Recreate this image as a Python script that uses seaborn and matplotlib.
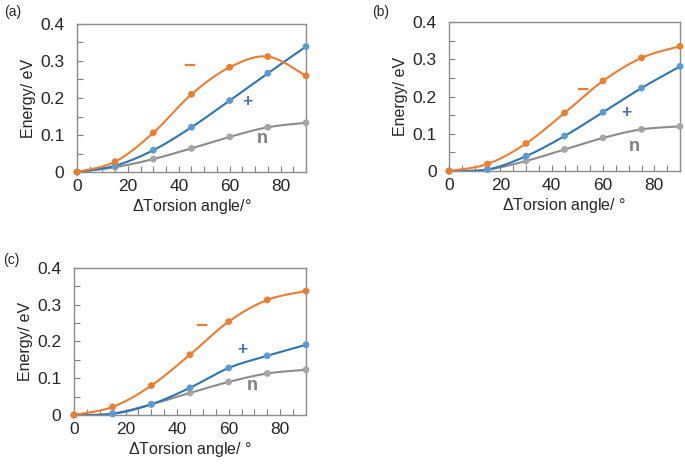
import numpy as np
import seaborn as sns
import matplotlib.pyplot as plt
from matplotlib.ticker import MultipleLocator, FuncFormatter

# torsion angle steps (degrees)
angles = [0, 15, 30, 45, 60, 75, 90]

# panel (a)
a_minus = [0, 0.028, 0.106, 0.210, 0.283, 0.312, 0.260]
a_plus = [0, 0.017, 0.059, 0.121, 0.193, 0.267, 0.339]
a_n = [0, 0.013, 0.035, 0.064, 0.095, 0.121, 0.133]

# panel (b)
b_minus = [0, 0.019, 0.074, 0.156, 0.242, 0.304, 0.335]
b_plus = [0, 0.004, 0.040, 0.094, 0.158, 0.223, 0.281]
b_n = [0, 0.004, 0.027, 0.058, 0.089, 0.112, 0.120]

# panel (c)
c_minus = [0, 0.022, 0.080, 0.164, 0.254, 0.313, 0.337]
c_plus = [0, 0.003, 0.029, 0.074, 0.128, 0.161, 0.191]
c_n = [0, 0.004, 0.029, 0.060, 0.090, 0.113, 0.123]

series_labels = ["\u2212", "+", "n"]
# where the series tags sit, per panel: (x, y)
label_pos = {
    "a": [(44, 0.285), (67, 0.19), (73, 0.09)],
    "b": [(52, 0.216), (69, 0.156), (72, 0.065)],
    "c": [(49.5, 0.24), (65.5, 0.178), (69, 0.08)],
}

line_colors = ["#ED7D31", "#2E75B6", "#8C8C8C"]
marker_colors = ["#ED7D31", "#5B9BD5", "#A5A5A5"]
label_colors = ["#ED7D31", "#4472C4", "#7F7F7F"]
label_sizes = [15, 12.5, 13]

sns.set_style("white")
plt.rcParams["font.family"] = ["Liberation Sans", "DejaVu Sans"]
plt.rcParams["mathtext.fontset"] = "custom"
plt.rcParams["mathtext.it"] = "Liberation Sans:italic"
plt.rcParams["mathtext.rm"] = "Liberation Sans"


def smooth(x, y, n=30):
    # Excel-like smoothed line: cubic bezier segments, catmull-rom handles
    x = np.asarray(x, float)
    y = np.asarray(y, float)
    px = np.concatenate([[x[0]], x, [x[-1]]])
    py = np.concatenate([[y[0]], y, [y[-1]]])
    xs, ys = [], []
    t = np.linspace(0, 1, n)
    for i in range(1, len(px) - 2):
        p0 = np.array([px[i], py[i]])
        p3 = np.array([px[i + 1], py[i + 1]])
        p1 = p0 + (np.array([px[i + 1], py[i + 1]]) - np.array([px[i - 1], py[i - 1]])) / 6
        p2 = p3 - (np.array([px[i + 2], py[i + 2]]) - np.array([px[i], py[i]])) / 6
        b = ((1 - t) ** 3)[:, None] * p0 + (3 * (1 - t) ** 2 * t)[:, None] * p1 \
            + (3 * (1 - t) * t ** 2)[:, None] * p2 + (t ** 3)[:, None] * p3
        xs.append(b[:, 0])
        ys.append(b[:, 1])
    return np.concatenate(xs), np.concatenate(ys)


def fmt_energy(v, pos):
    return "0" if abs(v) < 1e-9 else f"{v:.1f}"


fig = plt.figure(figsize=(6.85, 4.70), dpi=100)

panels = [
    ("a", [a_minus, a_plus, a_n], [0.1124, 0.634, 0.3343, 0.315], "/\u00b0"),
    ("b", [b_minus, b_plus, b_n], [0.6555, 0.636, 0.3372, 0.317], "/ \u00b0"),
    ("c", [c_minus, c_plus, c_n], [0.1080, 0.117, 0.3387, 0.313], "/ \u00b0"),
]

for name, data, rect, unit in panels:
    ax = fig.add_axes(rect)
    # grey first so orange/blue sit on top
    for k in [2, 1, 0]:
        sx, sy = smooth(angles, data[k])
        sns.lineplot(x=sx, y=sy, ax=ax, color=line_colors[k], lw=1.5,
                     sort=False, estimator=None)
        sns.scatterplot(x=angles, y=data[k], ax=ax, color=marker_colors[k],
                        s=24, edgecolor="none", zorder=3, clip_on=False)
    for k, (lx, ly) in enumerate(label_pos[name]):
        ax.text(lx, ly, series_labels[k], color=label_colors[k],
                fontsize=label_sizes[k], fontweight="bold",
                ha="center", va="center")

    ax.set_xlim(0, 90)
    ax.set_ylim(0, 0.4)
    ax.xaxis.set_major_locator(MultipleLocator(20))
    ax.xaxis.set_minor_locator(MultipleLocator(5))
    ax.yaxis.set_major_locator(MultipleLocator(0.1))
    ax.yaxis.set_minor_locator(MultipleLocator(0.05))
    ax.yaxis.set_major_formatter(FuncFormatter(fmt_energy))
    ax.tick_params(which="both", direction="in", color="#7F7F7F",
                   bottom=True, left=True, labelsize=12.5, width=0.8, length=4)
    ax.tick_params(axis="y", which="major", pad=9)
    ax.tick_params(axis="x", which="major", pad=5)
    for sp in ax.spines.values():
        sp.set_color("#8C8C8C")
        sp.set_linewidth(1.0)

    ax.set_ylabel("Energy/ eV", fontsize=11.5, labelpad=3)
    ax.set_xlabel("$\\mathit{\\Delta}$Torsion angle" + unit, fontsize=11.5, labelpad=2)

fig.text(0.006, 0.975, "(a)", fontsize=10, va="center")
fig.text(0.543, 0.975, "(b)", fontsize=10, va="center")
fig.text(0.004, 0.447, "(c)", fontsize=10, va="center")

fig.savefig("out.png", dpi=100)
